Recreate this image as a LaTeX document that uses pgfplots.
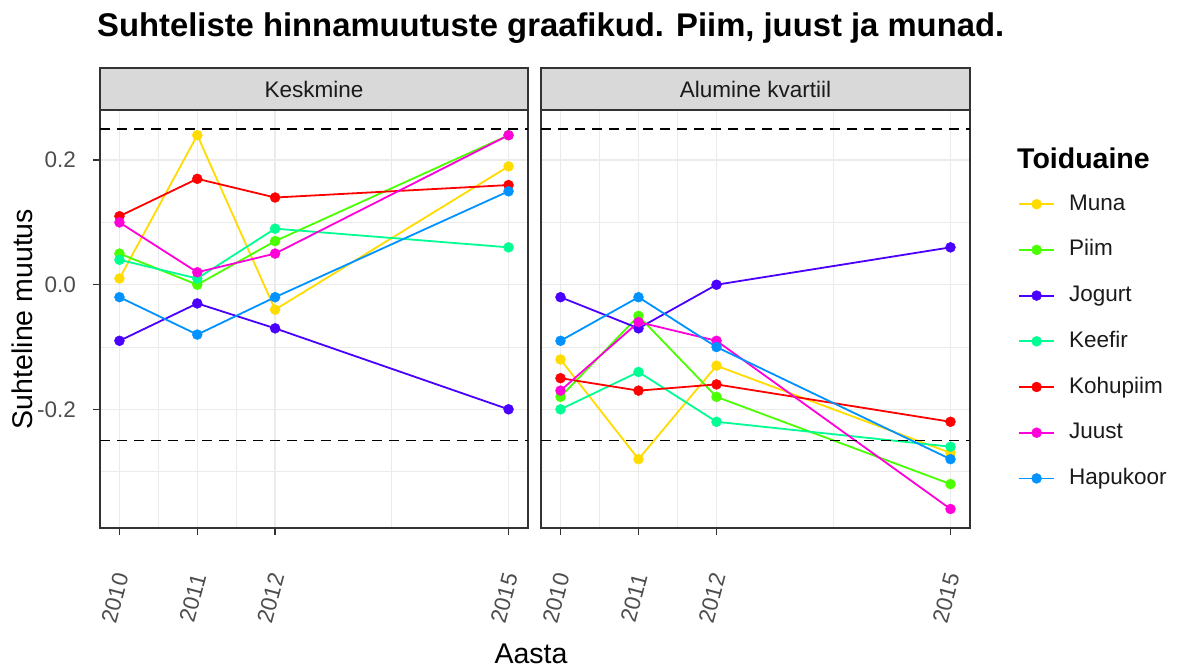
\documentclass[border=0pt]{standalone}
\usepackage{fontspec}
\setmainfont{Liberation Sans}
\usepackage{pgfplots}
\pgfplotsset{compat=1.18}
\usepackage{pgfplotstable}

\definecolor{cMuna}{HTML}{FFDB00}
\definecolor{cPiim}{HTML}{49FF00}
\definecolor{cJogurt}{HTML}{4900FF}
\definecolor{cKeefir}{HTML}{00FF92}
\definecolor{cKohupiim}{HTML}{FF0000}
\definecolor{cJuust}{HTML}{FF00DB}
\definecolor{cHapukoor}{HTML}{0092FF}
\definecolor{gridc}{HTML}{EBEBEB}
\definecolor{gtwenty}{HTML}{333333}
\definecolor{gthirty}{HTML}{4D4D4D}
\definecolor{stripc}{HTML}{D9D9D9}
\definecolor{gten}{HTML}{1A1A1A}

\newcommand\tickfont{\fontsize{22.5}{27}\selectfont}
\newcommand\axtitlefont{\fontsize{28.5}{34}\selectfont}

\pgfplotstableread{
year Muna Piim Jogurt Keefir Kohupiim Juust Hapukoor
2010 0.01 0.05 -0.09 0.04 0.11 0.10 -0.02
2011 0.24 0.00 -0.03 0.01 0.17 0.02 -0.08
2012 -0.04 0.07 -0.07 0.09 0.14 0.05 -0.02
2015 0.19 0.24 -0.20 0.06 0.16 0.24 0.15
}\keskmine

\pgfplotstableread{
year Muna Piim Jogurt Keefir Kohupiim Juust Hapukoor
2010 -0.12 -0.18 -0.02 -0.20 -0.15 -0.17 -0.09
2011 -0.28 -0.05 -0.07 -0.14 -0.17 -0.06 -0.02
2012 -0.13 -0.18 0.00 -0.22 -0.16 -0.09 -0.10
2015 -0.27 -0.32 0.06 -0.26 -0.22 -0.36 -0.28
}\alumine

\pgfplotsset{
  panel/.style={
    scale only axis, width=428pt, height=418pt, anchor=south west,
    xmin=2009.75, xmax=2015.25, ymin=-0.3905, ymax=0.2805,
    xtick={2010,2011,2012,2015}, xticklabels={2010,2011,2012,2015},
    minor xtick={2010.5,2011.5,2013.5},
    ytick={-0.2,0,0.2}, minor ytick={-0.3,-0.1,0.1},
    grid=both,
    major grid style={gridc, line width=1.4pt},
    minor grid style={gridc, line width=0.7pt},
    axis line style={gtwenty, line width=1.4pt},
    tick align=outside, major tick length=7pt, minor tick length=0pt,
    tick style={gtwenty, line width=1.4pt},
    tick pos=left,
    ticklabel style={font=\tickfont, text=gthirty},
    xticklabel style={inner sep=0pt, xshift=-4.5pt, yshift=-63pt, rotate=75, anchor=center},
    yticklabel style={inner sep=0pt, xshift=-17pt},
    clip=false, scaled ticks=false,
    every axis plot/.append style={line width=1.8pt, mark=*, mark size=5pt, mark options={solid, line width=0.4pt}},
  },
  dash/.style={black, line width=1.4pt, dash pattern=on 10pt off 7pt, mark=none, forget plot},
}

\begin{document}
\begin{tikzpicture}
\useasboundingbox (0,0) rectangle (1181pt,668pt);
\node[anchor=base west, inner sep=0pt, font=\bfseries\fontsize{32.8}{40}\selectfont] at (97pt,631pt) {Suhteliste hinnamuutuste graafikud. Piim, juust ja munad.};

\begin{axis}[panel, at={(100pt,140pt)}, yticklabels={-0.2,0.0,0.2},
  ylabel={Suhteline muutus},
  ylabel style={font=\axtitlefont, at={(axis description cs:-0.182,0.5)}, anchor=center}]
\addplot[color=cMuna] table[x=year,y=Muna]{\keskmine};
\addplot[color=cPiim] table[x=year,y=Piim]{\keskmine};
\addplot[color=cJogurt] table[x=year,y=Jogurt]{\keskmine};
\addplot[color=cKeefir] table[x=year,y=Keefir]{\keskmine};
\addplot[color=cKohupiim] table[x=year,y=Kohupiim]{\keskmine};
\addplot[color=cJuust] table[x=year,y=Juust]{\keskmine};
\addplot[color=cHapukoor] table[x=year,y=Hapukoor]{\keskmine};
\addplot[dash] coordinates {(2009.75,0.25) (2015.25,0.25)};
\addplot[dash] coordinates {(2009.75,-0.25) (2015.25,-0.25)};
\draw[gtwenty, fill=stripc, line width=1.4pt] (axis description cs:0,1) rectangle (axis description cs:1,1.1005);
\node[font=\tickfont, text=gten] at (axis description cs:0.5,1.0502) {Keskmine};
\node[font=\axtitlefont, inner sep=0pt] at (axis description cs:1.007,-0.3015) {Aasta};
\end{axis}

\begin{axis}[panel, at={(541pt,140pt)}, width=429pt, yticklabels={}, ytick style={draw=none},
  legend style={at={(axis description cs:1.1119,0.8014)}, anchor=north west, draw=none, fill=none,
    font=\tickfont, text=gten, row sep=23.7pt, column sep=14pt, inner sep=0pt,
    nodes={inner sep=0pt, text height=17pt, text depth=5pt}},
  legend cell align=left,
  legend image code/.code={\draw[#1, mark repeat=2, mark phase=2] plot coordinates {(0pt,0pt) (17.5pt,0pt) (35pt,0pt)};}]
\addplot[color=cMuna] table[x=year,y=Muna]{\alumine};
\addlegendentry{Muna}
\addplot[color=cPiim] table[x=year,y=Piim]{\alumine};
\addlegendentry{Piim}
\addplot[color=cJogurt] table[x=year,y=Jogurt]{\alumine};
\addlegendentry{Jogurt}
\addplot[color=cKeefir] table[x=year,y=Keefir]{\alumine};
\addlegendentry{Keefir}
\addplot[color=cKohupiim] table[x=year,y=Kohupiim]{\alumine};
\addlegendentry{Kohupiim}
\addplot[color=cJuust] table[x=year,y=Juust]{\alumine};
\addlegendentry{Juust}
\addplot[color=cHapukoor] table[x=year,y=Hapukoor]{\alumine};
\addlegendentry{Hapukoor}
\addplot[dash] coordinates {(2009.75,0.25) (2015.25,0.25)};
\addplot[dash] coordinates {(2009.75,-0.25) (2015.25,-0.25)};
\draw[gtwenty, fill=stripc, line width=1.4pt] (axis description cs:0,1) rectangle (axis description cs:1,1.1005);
\node[font=\tickfont, text=gten] at (axis description cs:0.5,1.0502) {Alumine kvartiil};
\node[anchor=west, inner sep=0pt, font=\bfseries\axtitlefont, text=black] at (axis description cs:1.1096,0.885) {Toiduaine};
\end{axis}
\end{tikzpicture}
\end{document}
